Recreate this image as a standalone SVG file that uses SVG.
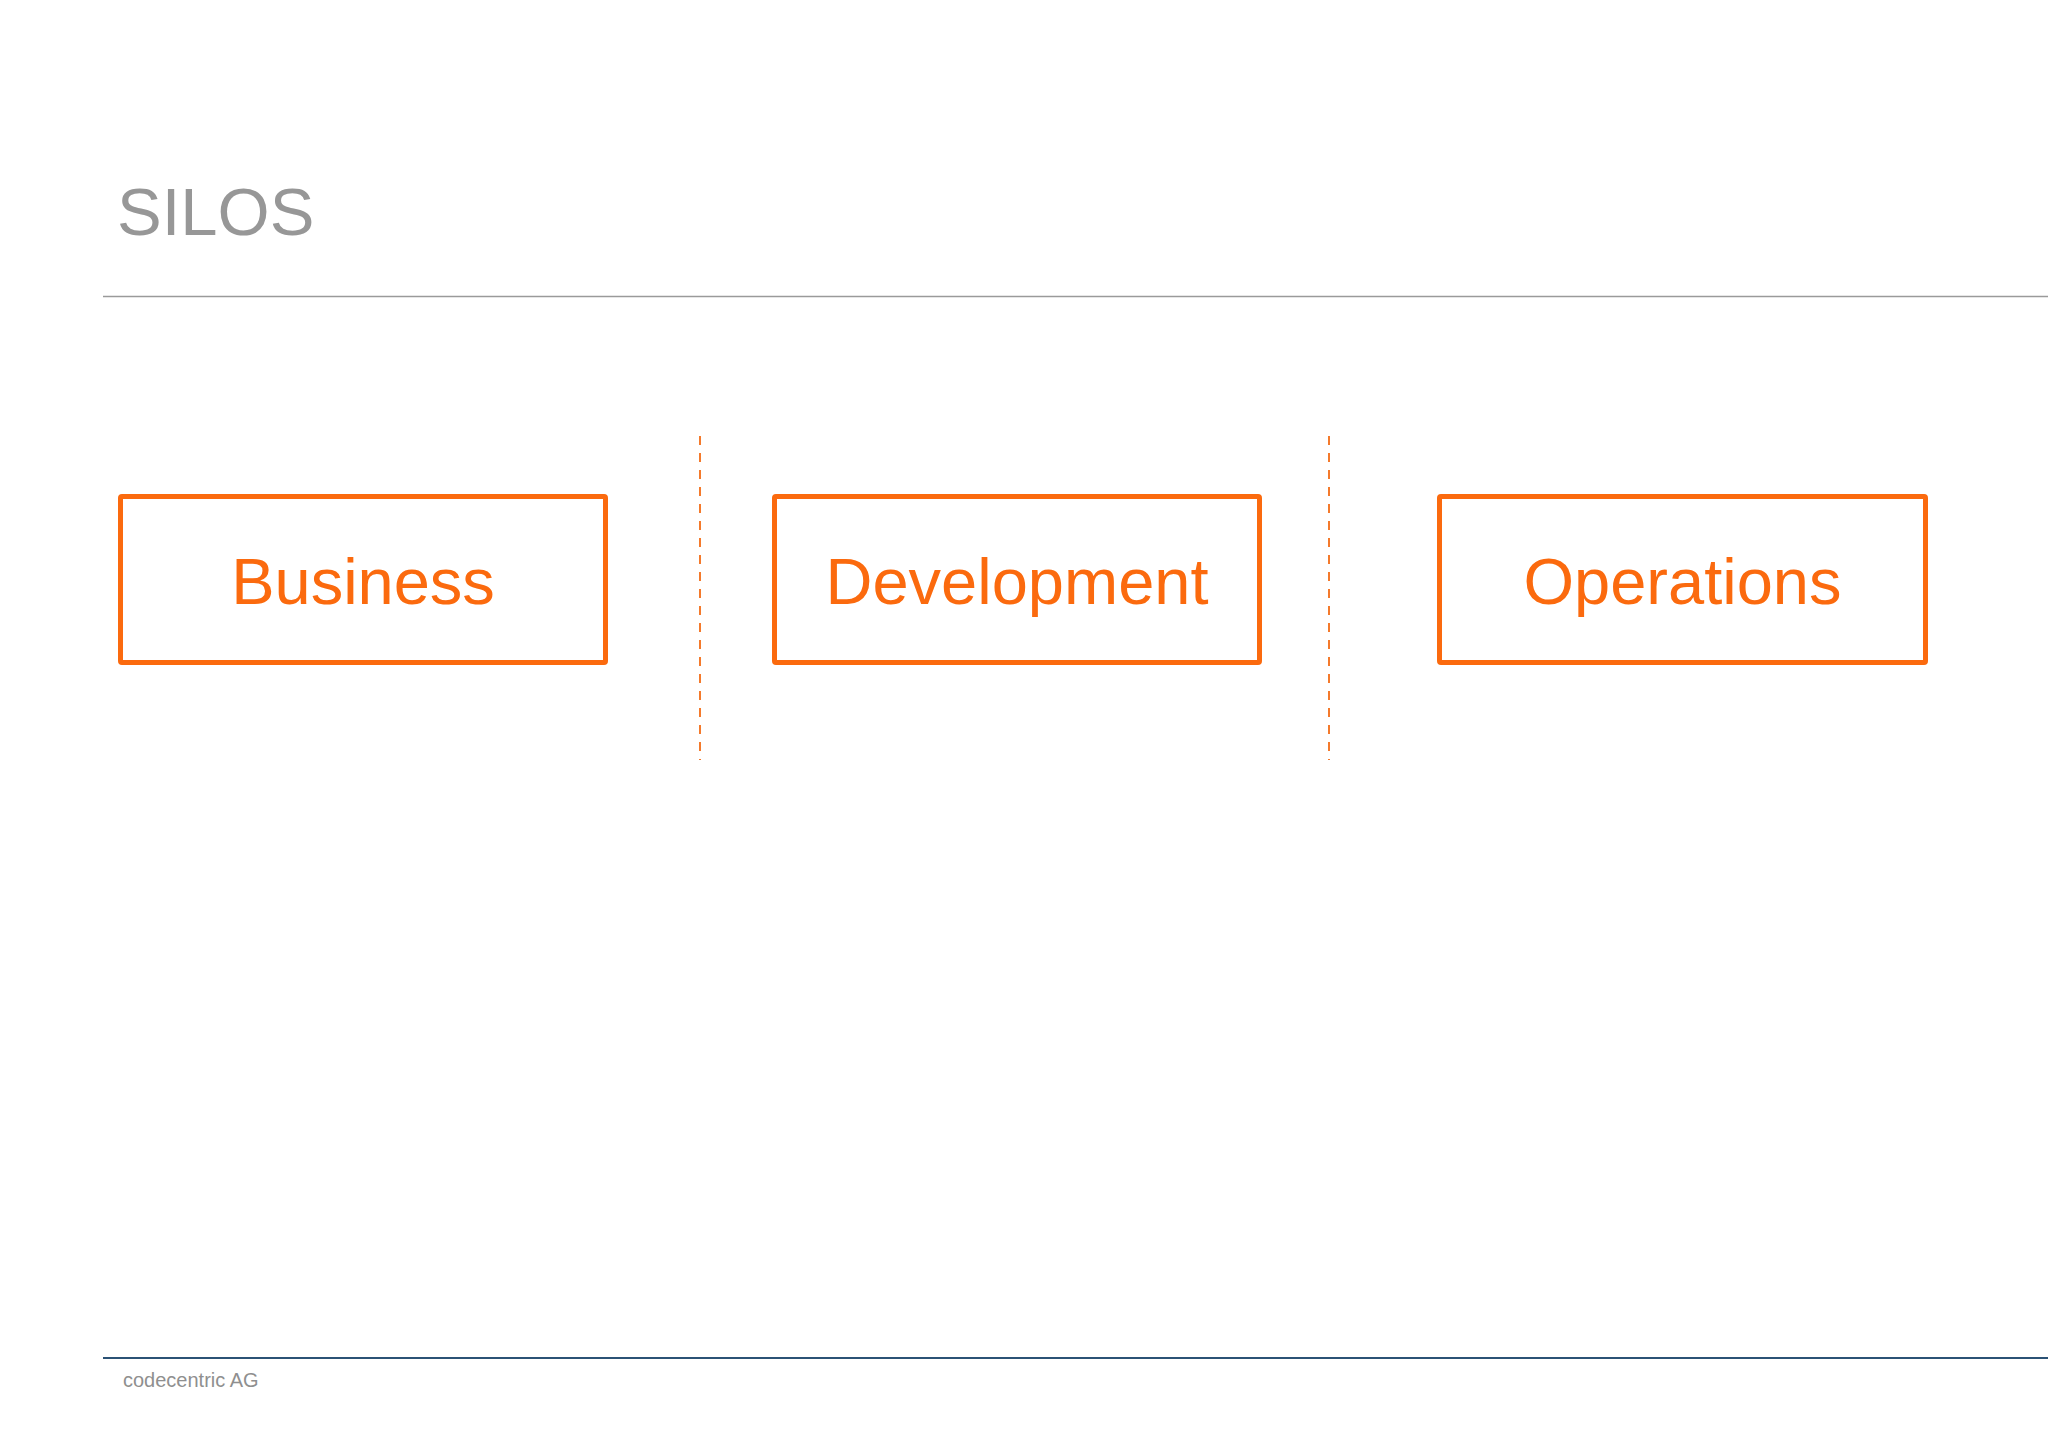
<svg xmlns="http://www.w3.org/2000/svg" width="2048" height="1448" viewBox="0 0 2048 1448">
<style>
.bg{fill:#ffffff}
.box{fill:#ffffff;stroke:#fb6a0e;stroke-width:5}
.lbl{font-family:"Liberation Sans",Arial,sans-serif;font-size:65px;fill:#fb6a0e;text-anchor:middle}
.title{font-family:"Liberation Sans",Arial,sans-serif;font-size:67px;fill:#979797}
.foot{font-family:"Liberation Sans",Arial,sans-serif;font-size:20px;fill:#8f8f8f}
.sep{stroke:#f47a2c;stroke-width:2;stroke-dasharray:9 8;fill:none}
</style>
<rect class="bg" x="0" y="0" width="2048" height="1448"/>
<g id="header">
<text class="title" x="117" y="235">SILOS</text>
<line x1="103" y1="296.5" x2="2048" y2="296.5" stroke="#9a9a9a" stroke-width="1.5"/>
</g>
<g id="connectors">
<line class="sep" x1="700" y1="436" x2="700" y2="760"/>
<line class="sep" x1="1329" y1="436" x2="1329" y2="760"/>
</g>
<g id="business">
<rect class="box" x="120.5" y="496.5" width="485" height="166" rx="1.5"/>
<text class="lbl" x="363" y="604">Business</text>
</g>
<g id="development">
<rect class="box" x="774.5" y="496.5" width="485" height="166" rx="1.5"/>
<text class="lbl" x="1017" y="604">Development</text>
</g>
<g id="operations">
<rect class="box" x="1439.5" y="496.5" width="486" height="166" rx="1.5"/>
<text class="lbl" x="1682.5" y="604">Operations</text>
</g>
<g id="footer">
<line x1="103" y1="1358" x2="2048" y2="1358" stroke="#2b5275" stroke-width="2"/>
<text class="foot" x="123" y="1387">codecentric AG</text>
</g>
</svg>
